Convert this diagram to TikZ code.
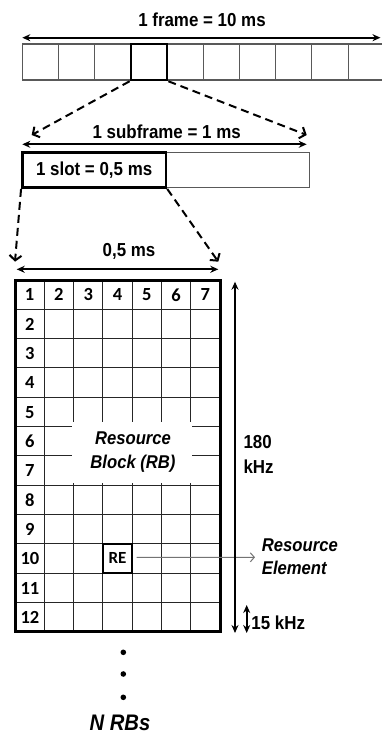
\documentclass[tikz,border=0pt]{standalone}
\usepackage{fontspec}
\setmainfont{Liberation Sans}
\newfontfamily\narrowfont[FakeStretch=0.9]{Liberation Sans}
\newfontfamily\calfont{Carlito}
\usetikzlibrary{arrows.meta}
\begin{document}
\begin{tikzpicture}[x=1pt,y=-1pt,
  lbl/.style={font=\narrowfont\bfseries\fontsize{18.8}{25}\selectfont, inner sep=0pt},
  num/.style={font=\calfont\bfseries\fontsize{18.5}{20}\selectfont, inner sep=0pt},
  ital/.style={font=\narrowfont\bfseries\itshape\fontsize{18.5}{23.5}\selectfont, inner sep=0pt},
  dim/.style={line width=2pt, {Stealth[length=8pt,width=7pt]}-{Stealth[length=8pt,width=7pt]}},
  zoomline/.style={line width=2pt, dash pattern=on 8pt off 5pt, -{Straight Barb[length=5pt,width=12pt]}},
  thinbar/.style={draw=black!65, line width=1.1pt},
  thickbox/.style={draw=black, line width=2.5pt},
  gridline/.style={draw=black!85, line width=0.9pt},
]
\useasboundingbox (0,0) rectangle (381,734);

% ---- frame bar
\foreach \i in {0,...,10} \draw[thinbar] ({22.3+36.2*\i},44) -- ({22.3+36.2*\i},80);
\draw[thinbar] (22.3,44) -- (386,44);
\draw[thinbar] (22.3,80) -- (386,80);
\node[thickbox, minimum width=36.2pt, minimum height=36pt, inner sep=0pt] (hl) at (149,62) {};
\coordinate (fL) at (22.3,37.7);
\coordinate (fR) at (380.5,37.7);
\draw[dim] (fL) -- (fR);
\node[lbl] (ftitle) at (202,20) {1 frame = 10 ms};

% ---- zoom to subframe
\coordinate (sfL) at (31.7,135);
\coordinate (sfR) at (306.7,135);
\draw[zoomline] (hl.south west) -- (sfL);
\draw[zoomline] (hl.south east) -- (sfR);

% ---- subframe
\coordinate (sL) at (22.3,144.3);
\coordinate (sR) at (306.7,144.3);
\draw[dim] (sL) -- (sR);
\node[lbl] (stitle) at (166.7,132.2) {1 subframe = 1 ms};
\draw[thinbar] (166,152.3) -- (309.3,152.3) -- (309.3,187.7) -- (166,187.7);
\node[thickbox, lbl, minimum width=143.7pt, minimum height=35.4pt] (slot) at (94.15,170) {1 slot = 0,5 ms};

% ---- zoom to slot
\coordinate (gL) at (15,261.7);
\coordinate (gR) at (218.3,261.7);
\draw[zoomline] (slot.south west) -- (gL);
\draw[zoomline] (slot.south east) -- (gR);

\coordinate (hL) at (16.7,269.3);
\coordinate (hR) at (218.3,269.3);
\draw[dim] (hL) -- (hR);
\node[lbl] (htitle) at (129,251.2) {0,5 ms};

% ---- grid
\foreach \i in {1,...,6} \draw[gridline] ({15+29.2857*\i},280) -- ({15+29.2857*\i},631.7);
\foreach \j in {1,...,11} \draw[gridline] (15,{280+29.31*\j}) -- (220,{280+29.31*\j});
\fill[white] (71.8,421.7) rectangle (192.2,483);
\draw[line width=3pt] (15,280) rectangle (220,631.7);
\foreach \i in {1,...,7} \node[num] (col\i) at ({15+29.2857*(\i-0.5)},294.9) {\i};
\foreach \j in {2,...,12} \node[num] (row\j) at (29.9,{280+29.31*(\j-0.5)+0.3}) {\j};
\node[ital, align=center] (rb) at (133,452) {Resource\\Block (RB)};

% ---- resource element
\node[draw=black, line width=2pt, minimum width=29.3pt, minimum height=29.3pt, inner sep=0pt,
      font=\calfont\bfseries\fontsize{17}{20}\selectfont] (re) at (117.5,558.45) {RE};
\coordinate (reTip) at (255,557.3);
\draw[draw=black!55, line width=1pt, -{Straight Barb[length=4pt,width=9pt]}] ([xshift=3.5pt,yshift=1.1pt]re.east) -- (reTip);
\node[ital, anchor=west, align=left] (relbl) at (261.7,556.6) {Resource\\Element};

% ---- bandwidth arrows
\coordinate (bwT) at (235,281.7);
\coordinate (bwB) at (235,633);
\draw[dim, line width=2.5pt] (bwT) -- (bwB);
\node[lbl, anchor=west, align=left] (bwl) at (243.3,454.2) {180\\kHz};
\coordinate (scT) at (246.7,605);
\coordinate (scB) at (246.7,633);
\draw[dim] (scT) -- (scB);
\node[lbl, anchor=west] (scl) at (251.2,622.3) {15 kHz};

% ---- more RBs
\foreach \y [count=\k] in {652.3,674,697.3} \fill (123.3,\y) circle (2.8pt) coordinate (dot\k);
\node[font=\narrowfont\bfseries\itshape\fontsize{22.5}{24}\selectfont, inner sep=0pt] (nrb) at (120,722.5) {N RBs};
\end{tikzpicture}
\end{document}
